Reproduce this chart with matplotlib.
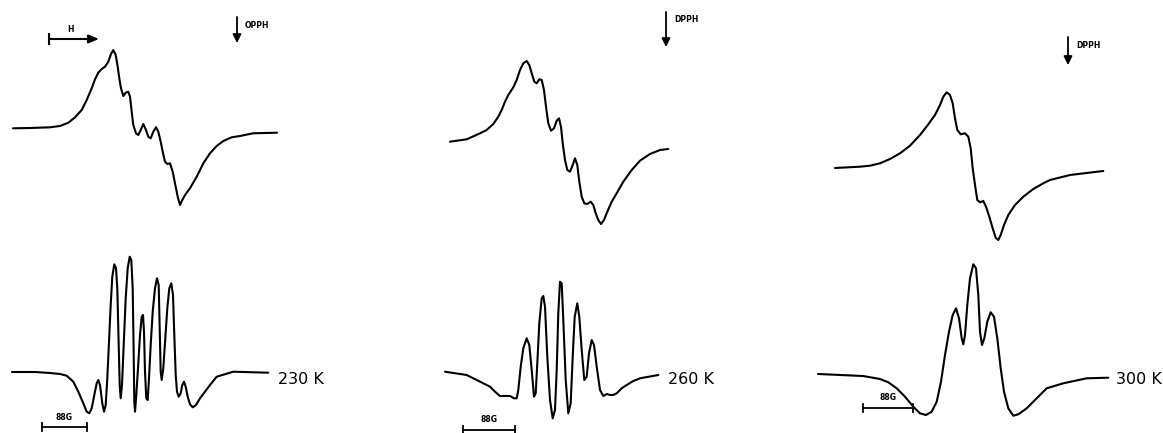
import matplotlib
matplotlib.use("Agg")
import matplotlib.pyplot as plt
import numpy as np

# field offset (px) and signal (px, up positive) for each trace
# 230 K, first derivative
t230_top_x = [0, 17, 37, 47, 55.3, 62, 68.7, 73.7, 78.7, 82, 85.3, 88.7, 92, 95.3, 98, 100.3, 102.7, 104.7,
              106.3, 108, 110.3, 112.7, 115.3, 117, 118.7, 120.3, 123, 125.3, 127.7, 130.3, 132.7, 135.3,
              137.7, 140.3, 143, 145.3, 147.7, 149.7, 152, 154.3, 157, 159.7, 162, 164.7, 167, 169.3, 172,
              177, 183.7, 190.3, 197, 203.7, 210.3, 218.7, 227, 240, 264]
t230_top_y = [-0.3, 0, 0.7, 2, 5.3, 10.7, 18, 28, 39.7, 48.7, 55.3, 59, 61.3, 66.3, 74, 78, 73, 61.3,
              49.7, 39.7, 32, 35.3, 36.3, 31.3, 16.3, 3, -5.3, -7, -2, 4, -1.3, -8.7,
              -10.3, -3.7, 0.7, -3.7, -13.7, -23.7, -33.7, -36, -35.3, -43.7, -55.3, -68.7, -77, -72, -67,
              -60.3, -48.7, -35.3, -25.3, -18, -13, -9.3, -8, -5.3, -4.7]
# 230 K, second trace
t230_bot_x = [0, 23, 38, 48, 54.7, 61.3, 66.3, 71.3, 74.7, 77.3, 79.7, 82.3, 84.7, 86.3, 88, 90.3, 92, 93.7,
              95.3, 97, 98.7, 100.3, 102.3, 104, 105.3, 106.7, 107.7, 108.7, 110, 111.7, 113.7, 115.7,
              117.7, 119.3, 120.7, 121.7, 122.3, 123, 124.3, 126, 128, 129.7, 131, 132, 133, 134.3, 135.7,
              137, 138.7, 140.7, 143, 145, 146.7, 147.7, 148.7, 149.7, 151.3, 153.3, 155.3, 157.3, 159.3,
              161, 162.3, 163.7, 165, 166.7, 168.7, 170.3, 172, 173.7, 175.7, 178, 180.7, 184, 188, 193,
              198, 204.7, 221.3, 256.3]
t230_bot_y = [0, 0, -1, -2, -3.7, -9.7, -19.7, -31.3, -39.7, -41.3, -36.3, -23, -11.3, -8, -13, -31.3, -39.7, -33,
              -6.3, 30.3, 67, 95.3, 107.7, 103.7, 83.7, 27, -13, -26.3, -13, 27, 73.7, 103.7,
              115.3, 112, 83.7, 17, -29.7, -39.7, -23, 3.7, 37, 55.3, 57, 40.3, 0.3, -26.3, -28,
              -6.3, 27, 60.3, 83.7, 93.7, 87, 43.7, 0.3, -8, 3.7, 33.7, 63.7, 83.7, 88.7,
              77, 37, -3, -19.7, -24.7, -21.3, -13, -9.7, -14.7, -24.7, -32.3, -35.3, -33, -26.3, -19.7,
              -13, -4.7, 0.3, -0.7]

# 260 K
t260_top_x = [0, 16.7, 30, 36.7, 43.3, 48.3, 51.7, 55, 58.3, 63.3, 66.7, 70, 73.3, 76.7, 79.3, 81.7, 84.3,
              86.7, 89.3, 91.7, 94, 96, 98.3, 101, 104, 106.7, 109, 111, 112.7, 115, 117.3, 120, 122.7,
              125, 127.3, 129.3, 131.7, 134.3, 137.3, 140.7, 143.3, 145.7, 148.3, 151, 154, 157.3, 161.7,
              166.7, 173.3, 181.7, 190, 200, 210, 218.3]
t260_top_y = [0.3, 2.7, 8.7, 12, 18, 25.3, 32, 40.3, 47, 54.7, 62, 72, 78.7, 81, 77, 68.7, 60.3,
              58.7, 62.7, 62, 52, 35.3, 18.7, 11.3, 13.7, 21.3, 23.7, 15.3, -1.3, -18, -28, -29.7, -23,
              -16.3, -23, -39.7, -54.7, -61.3, -62, -59.7, -63, -71.3, -78, -82, -78, -69.7, -59.7,
              -51.3, -39.7, -28, -18.7, -12, -8, -7]
t260_bot_x = [0, 21.7, 38.3, 45, 50, 55, 60, 65, 69, 71.7, 73.3, 75.7, 78.3, 81.7, 84.3, 86.7, 89, 90.7,
              92.3, 94.3, 96.7, 98.3, 100, 102.3, 105, 107.7, 110, 111.7, 113.3, 115, 116.7, 118.3, 120.7,
              123.3, 125.7, 127.7, 129.7, 132.3, 134.3, 136.7, 139.3, 141.7, 144, 146.7, 149, 151.7, 155,
              158.3, 161.7, 165, 168.3, 171.7, 176.7, 181.7, 188.3, 195, 213.3]
t260_bot_y = [0.3, -3, -11.3, -14.7, -19.7, -24, -24, -24, -26.3, -26.3, -18, 5.3, 23.7, 33.7, 27, 2, -24.7, -21.3,
              8.7, 48.7, 73.7, 76, 65.3, 15.3, -28, -46.3, -38, 2, 58.7, 90.3, 88.7, 52, -8,
              -41.3, -31.3, 15.3, 55.3, 68.7, 55.3, 22, -8, -4.7, 18.7, 32, 27, 5.3, -18,
              -24, -22, -23, -23, -21.3, -16.3, -13, -9, -6.3, -3]

# 300 K
t300_top_x = [0, 25, 35, 45, 55, 65, 75, 85, 93.3, 100, 105, 108.3, 111.7, 115, 117.7, 120, 122.3, 125.7,
              130, 133.3, 135.7, 137.7, 140, 142.3, 145, 148.3, 151, 154.3, 157.7, 160.7, 163.3, 165.7,
              169, 173.3, 180, 188.3, 198.3, 208.3, 215, 235, 268.3]
t300_top_y = [0, 1.3, 2.3, 4.7, 9, 14.7, 22.3, 33, 43.7, 53, 63, 71.3, 75.7, 73, 64.7, 49.7, 38, 33.7,
              34.7, 31.3, 19.7, -0.3, -17, -32, -34.3, -33, -38.7, -48.7, -60.3, -69.7, -72, -67,
              -57, -47, -37, -28.7, -21, -15.3, -12, -7, -3]
t300_bot_x = [0, 45, 62, 70.3, 78.7, 87, 95.3, 102, 108, 113.7, 118.7, 123, 127, 131, 134.7, 138, 141, 143.7,
              145.3, 147, 149.3, 152, 155.3, 158, 160.3, 162, 164, 166.3, 169.3, 172.7, 176, 179.3,
              182.7, 186, 190.3, 195.3, 200.3, 208.7, 218.7, 228.7, 245.3, 268.7, 290.3]
t300_bot_y = [0, -2, -5, -8.3, -14.3, -22.7, -32.7, -39.3, -41, -37.7, -27.7, -7.7, 19, 42.3, 59, 65.7, 55.7, 35.7,
              29.7, 39, 69, 95.7, 109.7, 105.7, 79, 42.3, 29, 35.7, 52.3, 61.7, 57.3, 35.7,
              5.7, -17.7, -34.3, -41.7, -40.3, -34.3, -24.3, -14.3, -9.3, -4.3, -3.7]

temps = ["230 K", "260 K", "300 K"]
scale_label = "88G"

fig = plt.figure(figsize=(11.63, 4.33), dpi=100)
ax = fig.add_axes([0, 0, 1, 1])
ax.set_xlim(0, 1163)
ax.set_ylim(433, 0)
ax.axis("off")

lw = 1.5
# trace origins (start point of each curve) in picture px
top_org = [(13, 128), (450, 142), (835, 168)]
bot_org = [(12, 372), (445, 372), (818, 374)]
tops = [(t230_top_x, t230_top_y), (t260_top_x, t260_top_y), (t300_top_x, t300_top_y)]
bots = [(t230_bot_x, t230_bot_y), (t260_bot_x, t260_bot_y), (t300_bot_x, t300_bot_y)]

for (x0, y0), (xs, ys) in zip(top_org + bot_org, tops + bots):
    ax.plot(x0 + np.array(xs), y0 - np.array(ys), color="k", lw=lw,
            solid_joinstyle="round", solid_capstyle="round")

# temperature labels
lab_pos = [(278, 379), (668, 379), (1116, 380)]
for (lx, ly), t in zip(lab_pos, temps):
    ax.text(lx, ly, t, fontsize=11.5, ha="left", va="center", family="DejaVu Sans")

# DPPH markers
dpph = [(237, 17, 43, "OPPH"), (666, 12, 47, "DPPH"), (1068, 37, 65, "DPPH")]
for x, ya, yb, s in dpph:
    ax.annotate("", xy=(x, yb), xytext=(x, ya),
                arrowprops=dict(arrowstyle="-|>,head_width=0.25,head_length=0.5", color="k", lw=1.3,
                                shrinkA=0, shrinkB=0))
    ax.text(x + 8, ya + 8, s, fontsize=5.5, fontweight="bold", ha="left", va="center")

# field direction arrow
ax.annotate("", xy=(99, 39), xytext=(49, 39),
            arrowprops=dict(arrowstyle="-|>,head_width=0.25,head_length=0.6", color="k", lw=1.5,
                            shrinkA=0, shrinkB=0))
ax.plot([49, 49], [34, 44], color="k", lw=1.5)
ax.text(70, 30, "H", fontsize=5.5, fontweight="bold", ha="center", va="center")

# scale bars
bars = [(42, 87, 427), (463, 515, 430), (863, 913, 408)]
for xa, xb, y in bars:
    ax.plot([xa, xb], [y, y], color="k", lw=1.3)
    ax.plot([xa, xa], [y - 4, y + 4], color="k", lw=1.3)
    ax.plot([xb, xb], [y - 4, y + 4], color="k", lw=1.3)
    ax.text((xa + xb) / 2, y - 10, scale_label, fontsize=5.5, fontweight="bold", ha="center", va="center")

fig.savefig("out.png", dpi=100, facecolor="white")
